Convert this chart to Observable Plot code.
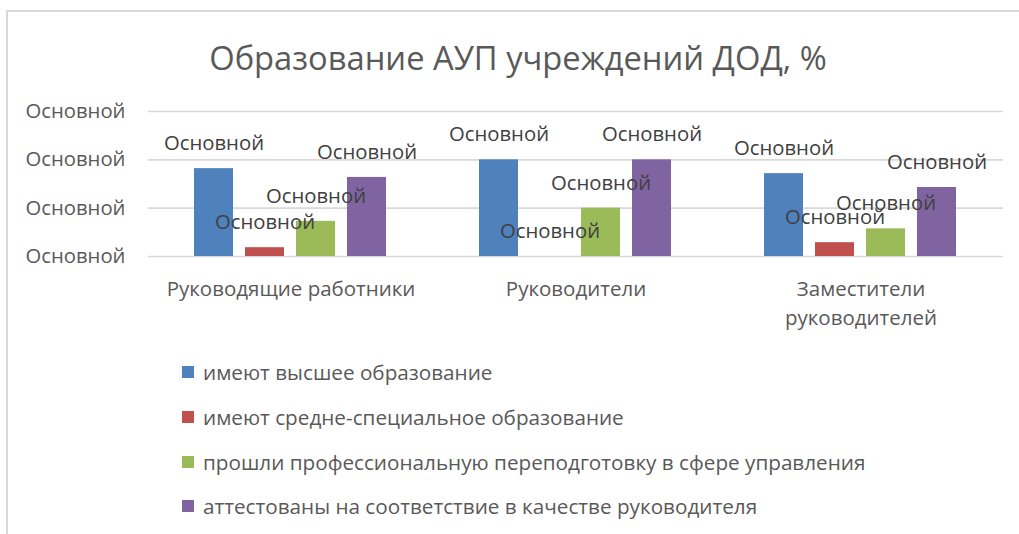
<!DOCTYPE html>
<html>
<head>
<meta charset="utf-8">
<script src="https://cdn.jsdelivr.net/npm/d3@7"></script>
<script src="https://cdn.jsdelivr.net/npm/@observablehq/plot@0.6"></script>
<style>
  html, body { margin: 0; padding: 0; background: #fff; }
  #root { position: relative; width: 1019px; height: 534px; overflow: hidden; font-family: "Open Sans", sans-serif; color: #595959; }
  #frame { position: absolute; left: 6px; top: 10px; width: 1100px; height: 600px; border-top: 2px solid #d9d9d9; border-left: 2px solid #d9d9d9; }
  #title { position: absolute; top: 57px; left: 518px; transform: translate(-50%, -50%); white-space: nowrap; font-size: 32.7px; }
  #chart { position: absolute; left: 0; top: 90px; }
  #legend { position: absolute; left: 182px; top: 0; }
  .lg { position: absolute; left: 0; white-space: nowrap; font-size: 20.7px; display: flex; align-items: center; transform: translateY(-50%); }
  .sw { width: 12px; height: 12px; margin-right: 9px; flex: none; }
</style>
</head>
<body>
<div id="root">
  <div id="frame"></div>
  <div id="title"></div>
  <div id="chart"></div>
  <div id="legend"></div>
</div>
<script>
const chartTitle = "Образование АУП учреждений ДОД, %";
const categories = ["Руководящие работники", "Руководители", "Заместители руководителей"];
const series = [
  "имеют высшее образование",
  "имеют средне-специальное образование",
  "прошли профессиональную переподготовку в сфере управления",
  "аттестованы на соответствие в качестве руководителя"
];
const higherEducation = [90.9, 100, 85.7];
const secondarySpecial = [9.1, 0, 14.3];
const retrained = [36.4, 50, 28.6];
const certified = [81.8, 100, 71.4];
const seriesColors = ["#4F81BD", "#C0504D", "#9BBB59", "#8064A2"];
const yTicks = [0, 50, 100, 150];
const yTickLabel = "Основной";
const dataLabel = "Основной";

const seriesValues = [higherEducation, secondarySpecial, retrained, certified];
const data = [];
categories.forEach((c, i) => {
  series.forEach((s, j) => data.push({category: c, series: s, value: seriesValues[j][i]}));
});

document.getElementById("title").textContent = chartTitle;

const chart = Plot.plot({
  width: 1019,
  height: 246,
  marginLeft: 148,
  marginRight: 16,
  marginTop: 21,
  marginBottom: 80,
  style: {fontFamily: "Open Sans", fontSize: "20px", color: "#595959", background: "transparent", overflow: "visible"},
  fx: {domain: categories, padding: 0, label: null},
  x: {domain: series, paddingInner: 0.226, paddingOuter: 0.87, axis: null},
  y: {domain: [0, 150], axis: null},
  color: {domain: series, range: seriesColors},
  marks: [
    Plot.gridY(yTicks, {stroke: "#d9d9d9", strokeOpacity: 1, strokeWidth: 1.6}),
    Plot.axisY(yTicks, {tickSize: 0, tickPadding: 23, tickFormat: () => yTickLabel, fontSize: 20.3, fill: "#595959", label: null}),
    Plot.barY(data, {fx: "category", x: "series", y: "value", fill: "series"}),
    Plot.text(data, {fx: "category", x: "series", y: "value", text: () => dataLabel, dy: -25, fontSize: 20.3, fill: "#404040"}),
    Plot.axisFx({anchor: "bottom", tickSize: 0, tickPadding: 19, fontSize: 20.5, fill: "#595959", label: null, lineHeight: 1.4,
      tickFormat: d => d.length > 22 ? d.replace(" ", "\n") : d})
  ]
});
document.getElementById("chart").appendChild(chart);

const legend = document.getElementById("legend");
const rowY = [371.5, 417, 461.5, 505.5];
series.forEach((s, i) => {
  const row = document.createElement("div");
  row.className = "lg";
  row.style.top = rowY[i] + "px";
  const sw = document.createElement("span");
  sw.className = "sw";
  sw.style.background = seriesColors[i];
  const t = document.createElement("span");
  t.textContent = s;
  row.appendChild(sw);
  row.appendChild(t);
  legend.appendChild(row);
});
</script>
</body>
</html>
